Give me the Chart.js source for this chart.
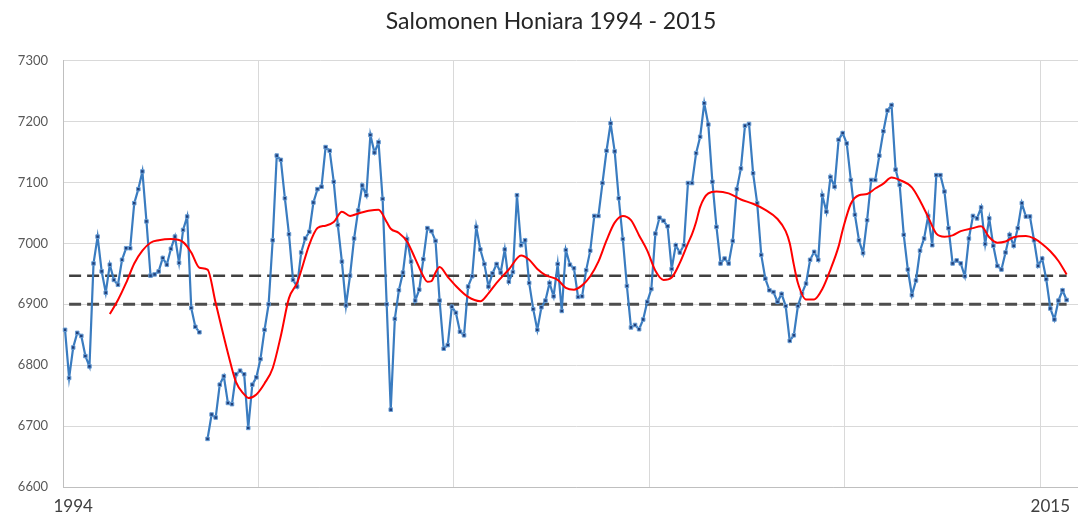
<!DOCTYPE html>
<html>
<head>
<meta charset="utf-8">
<script src="https://cdn.jsdelivr.net/npm/chart.js@4.4.1/dist/chart.umd.min.js"></script>
<style>
  html, body { margin: 0; padding: 0; background: #fff; overflow: hidden; }
  #wrap { width: 1094px; height: 515px; }
</style>
</head>
<body>
<div id="wrap"><canvas id="honiara" width="1094" height="515"></canvas></div>
<script>
// Monatswerte Honiara, Jan 1994 .. 2015 (Lücke bei Index 34)
const honiara = [
    6858, 6779, 6829, 6853, 6848, 6815, 6798, 6967, 7011, 6954,
    6919, 6965, 6940, 6932, 6973, 6992, 6992, 7066, 7089, 7118,
    7036, 6947, 6949, 6954, 6976, 6965, 6991, 7011, 6968, 7022,
    7044, 6894, 6863, 6854, null, 6679, 6719, 6714, 6768, 6782,
    6738, 6736, 6785, 6791, 6785, 6697, 6768, 6780, 6810, 6858,
    6900, 7005, 7144, 7137, 7074, 7015, 6940, 6929, 6985, 7008,
    7019, 7067, 7089, 7093, 7158, 7152, 7101, 7030, 6970, 6898,
    6947, 7008, 7054, 7095, 7079, 7178, 7149, 7166, 7073, 6900,
    6727, 6876, 6923, 6952, 7007, 6970, 6906, 6924, 6974, 7025,
    7020, 7004, 6906, 6827, 6833, 6896, 6886, 6855, 6849, 6929,
    6946, 7027, 6990, 6966, 6929, 6951, 6966, 6952, 6990, 6937,
    6953, 7079, 6997, 7005, 6935, 6892, 6858, 6895, 6906, 6935,
    6913, 6966, 6889, 6989, 6965, 6959, 6912, 6913, 6956, 6988,
    7045, 7045, 7099, 7152, 7197, 7151, 7074, 7007, 6930, 6862,
    6866, 6859, 6875, 6904, 6925, 7016, 7042, 7037, 7028, 6958,
    6997, 6985, 6997, 7099, 7099, 7148, 7175, 7230, 7195, 7101,
    7027, 6967, 6975, 6967, 7004, 7089, 7123, 7193, 7196, 7115,
    7066, 6981, 6942, 6923, 6920, 6904, 6917, 6897, 6840, 6849,
    6897, 6918, 6934, 6973, 6986, 6973, 7079, 7052, 7109, 7093,
    7170, 7181, 7164, 7104, 7047, 7005, 6984, 7038, 7104, 7104,
    7144, 7184, 7218, 7227, 7121, 7096, 7014, 6957, 6915, 6939,
    6988, 7008, 7045, 6997, 7112, 7112, 7085, 7025, 6967, 6972,
    6967, 6946, 7008, 7045, 7041, 7059, 6999, 7041, 6996, 6963,
    6957, 6985, 7014, 6996, 7025, 7066, 7044, 7044, 7005, 6963,
    6975, 6941, 6893, 6875, 6906, 6923, 6907
];

const trendAt = [
    11, 13, 15, 17, 19, 21, 23, 26, 29, 31, 33, 35, 37, 40, 42, 44, 45, 47, 49, 51,
    53, 55, 57, 58, 60, 62, 64, 66, 68, 70, 72, 75, 77, 79, 80, 82, 84, 86, 88, 89,
    90, 91, 92, 94, 96, 99, 102, 104, 106, 109, 112, 114, 116, 118, 121, 123, 125, 127, 129, 131,
    133, 135, 137, 139, 141, 143, 145, 147, 149, 151, 153, 154, 155, 156, 158, 160, 163, 166, 169, 172,
    175, 177, 178, 179, 180, 182, 184, 186, 188, 190, 191, 193, 195, 197, 199, 201, 203, 205, 208, 210,
    212, 214, 216, 218, 220, 223, 225, 227, 229, 231, 233, 236, 238, 240, 242, 244, 246
];
const trendVal = [
    6884, 6907, 6935, 6967, 6988, 7001, 7005, 7007, 7002, 6985, 6960, 6957, 6902, 6820, 6772, 6752, 6746, 6752, 6770, 6795,
    6848, 6910, 6935, 6955, 6998, 7025, 7029, 7035, 7052, 7045, 7049, 7054, 7055, 7035, 7024, 7017, 7003, 6975, 6946, 6937,
    6938, 6952, 6961, 6945, 6930, 6912, 6905, 6918, 6935, 6957, 6980, 6973, 6958, 6948, 6940, 6927, 6924, 6931, 6946, 6970,
    7005, 7034, 7045, 7038, 7013, 6988, 6955, 6940, 6944, 6968, 7000, 7015, 7035, 7060, 7082, 7085, 7082, 7072, 7065, 7055,
    7040, 7020, 7000, 6965, 6935, 6908, 6908, 6925, 6957, 6995, 7022, 7065, 7079, 7081, 7090, 7098, 7108, 7104, 7092, 7070,
    7043, 7016, 7011, 7013, 7020, 7025, 7028, 7010, 7001, 7003, 7010, 7012, 7008, 6999, 6987, 6971, 6949
];

// gestrichelte Grenzlinien
const upperLevel = 6947;
const lowerLevel = 6900;
const levelFrom = 1;
const levelTo = 246;

// Achse
const yMin = 6600;
const yMax = 7300;
const yStep = 100;
const monthCount = 252;
const yearTicks = { 2: '1994', 242: '2015' };

const months = [];
for (let i = 0; i < monthCount; i++) {
    const y = 1994 + Math.floor(i / 12);
    const m = (i % 12) + 1;
    months.push(y + '-' + (m < 10 ? '0' + m : m));
}

const trendData = new Array(monthCount).fill(null);
trendAt.forEach(function (idx, k) { trendData[idx] = trendVal[k]; });

function levelLine(v) {
    const arr = new Array(monthCount).fill(null);
    arr[levelFrom] = v;
    arr[levelTo] = v;
    return arr;
}

const gridGrey = '#d9d9d9';
const fontName = "Lato, 'Liberation Sans', sans-serif";

const dadosHoniara = {
    labels: months,
    datasets: [{
        label: 'Mittel',
        data: trendData,
        borderColor: '#ff0000',
        borderWidth: 2,
        pointRadius: 0,
        spanGaps: true,
        cubicInterpolationMode: 'monotone',
        fill: false
    }, {
        label: 'Honiara',
        data: honiara,
        borderColor: '#3a7cc0',
        borderWidth: 2.2,
        pointStyle: 'rect',
        pointRadius: 2.5,
        pointBorderWidth: 1,
        pointBackgroundColor: '#1f3f7a',
        pointBorderColor: '#6a9fd6',
        spanGaps: false,
        tension: 0,
        fill: false
    }, {
        label: 'oben',
        data: levelLine(upperLevel),
        borderColor: '#404040',
        borderWidth: 2.5,
        borderDash: [12, 6],
        pointRadius: 0,
        spanGaps: true,
        fill: false
    }, {
        label: 'unten',
        data: levelLine(lowerLevel),
        borderColor: '#4d4d4d',
        borderWidth: 3,
        borderDash: [12, 6],
        pointRadius: 0,
        spanGaps: true,
        fill: false
    }]
};

const configHoniara = {
    type: 'line',
    data: dadosHoniara,
    options: {
        responsive: false,
        animation: false,
        layout: { padding: { left: 8, right: 0, top: 0, bottom: 0 } },
        scales: {
            x: {
                type: 'category',
                offset: true,
                grid: {
                    offset: true,
                    drawTicks: false,
                    color: function (ctx) {
                        return (ctx.index > 0 && ctx.index % 48 === 0) ? gridGrey : 'rgba(0,0,0,0)';
                    },
                    lineWidth: 1
                },
                border: { display: true, color: '#bfbfbf', width: 1 },
                ticks: {
                    autoSkip: false,
                    maxRotation: 0,
                    minRotation: 0,
                    padding: 9,
                    color: '#404040',
                    font: { size: 17, family: fontName },
                    callback: function (val, idx) {
                        return yearTicks[idx] || '';
                    }
                },
                afterFit: function (s) {
                    s.height = 28;
                    s.paddingLeft = 0;
                    s.paddingRight = 0;
                }
            },
            y: {
                min: yMin,
                max: yMax,
                grid: { color: gridGrey, drawTicks: false },
                border: { display: true, color: '#bfbfbf' },
                ticks: {
                    stepSize: yStep,
                    padding: 15,
                    color: '#595959',
                    font: { size: 13, family: fontName },
                    callback: function (v) { return String(v); }
                },
                afterFit: function (s) { s.width = 55; }
            }
        },
        plugins: {
            legend: { display: false },
            tooltip: { enabled: false },
            title: {
                display: true,
                text: 'Salomonen Honiara 1994 - 2015',
                color: '#262626',
                padding: { top: 8, bottom: 25 },
                font: { size: 23, weight: 'normal', family: fontName }
            }
        }
    }
};

new Chart(document.getElementById('honiara').getContext('2d'), configHoniara);
</script>
</body>
</html>
